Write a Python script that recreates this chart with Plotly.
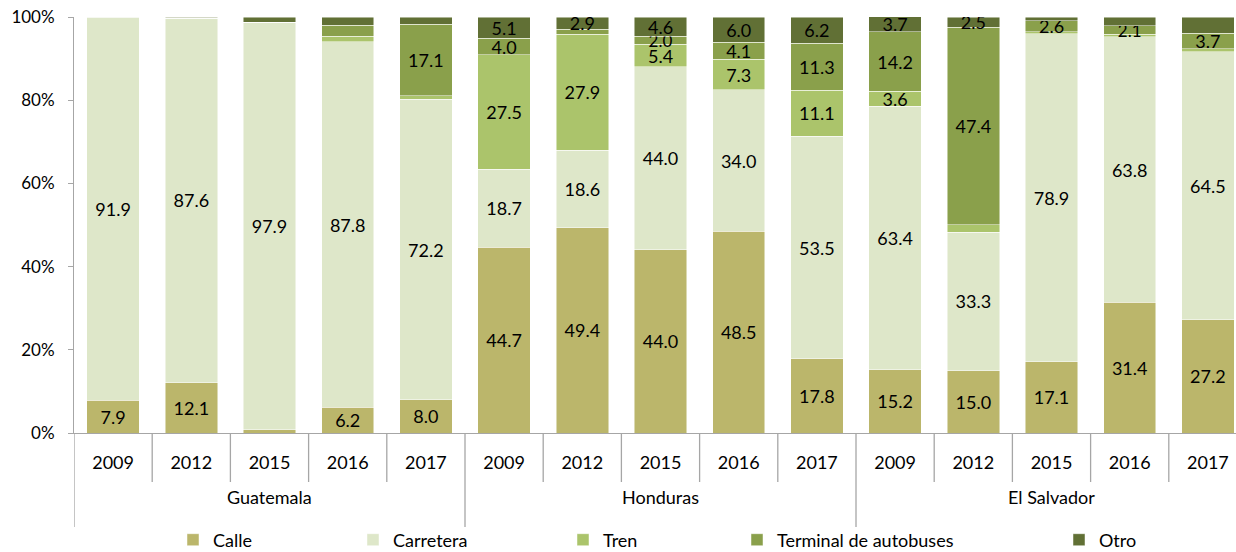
import plotly.graph_objects as go

# ---------------- data ----------------
countries = ["Guatemala", "Honduras", "El Salvador"]
years = ["2009", "2012", "2015", "2016", "2017"]

calle = [7.9, 12.1, 0.8, 6.2, 8.0,
         44.7, 49.4, 44.0, 48.5, 17.8,
         15.2, 15.0, 17.1, 31.4, 27.2]
carretera = [91.9, 87.6, 97.9, 87.8, 72.2,
             18.7, 18.6, 44.0, 34.0, 53.5,
             63.4, 33.3, 78.9, 63.8, 64.5]
tren = [0.0, 0.0, 0.0, 1.4, 0.9,
        27.5, 27.9, 5.4, 7.3, 11.1,
        3.6, 1.8, 0.5, 0.6, 0.7]
terminal = [0.2, 0.1, 0.0, 2.6, 17.1,
            4.0, 1.2, 2.0, 4.1, 11.3,
            14.2, 47.4, 2.6, 2.1, 3.7]
otro = [0.0, 0.2, 1.3, 2.0, 1.8,
        5.1, 2.9, 4.6, 6.0, 6.2,
        3.7, 2.5, 0.9, 2.1, 3.9]

# which data labels are printed on the bars (1 = shown)
show_calle = [1, 1, 0, 1, 1, 1, 1, 1, 1, 1, 1, 1, 1, 1, 1]
show_carretera = [1] * 15
show_tren = [0, 0, 0, 0, 0, 1, 1, 1, 1, 1, 1, 0, 0, 0, 0]
show_terminal = [0, 0, 0, 0, 1, 1, 0, 1, 1, 1, 1, 1, 1, 1, 1]
show_otro = [0, 0, 0, 0, 0, 1, 1, 1, 1, 1, 1, 1, 0, 0, 0]

series_names = ["Calle", "Carretera", "Tren", "Terminal de autobuses", "Otro"]
series_values = [calle, carretera, tren, terminal, otro]
series_show = [show_calle, show_carretera, show_tren, show_terminal, show_otro]
colors = ["#BBB66B", "#DEE7C9", "#ABC46B", "#8AA04B", "#617035"]

y_ticks = [0, 20, 40, 60, 80, 100]
y_tick_text = ["0%", "20%", "40%", "60%", "80%", "100%"]

# ---------------- layout constants ----------------
W, H = 1236, 552
ML, MR, MT, MB = 74, 0, 17, 119
plot_w = W - ML - MR
plot_h = H - MT - MB
slot_px = 78.2
FONT = "Lato"
FS_LABEL = 18
FS_AXIS = 18
FS_Y = 17
GREY = "#A6A6A6"

n = len(countries) * len(years)
xpos = list(range(n))
tick_text = [y for _ in countries for y in years]

legend_left_px = [173, 353, 563, 737, 1059]

fig = go.Figure()
for i, (name, vals, show, col) in enumerate(zip(series_names, series_values, series_show, colors)):
    txt = [f"{v:.1f}" if s else "" for v, s in zip(vals, show)]
    sizes = [FS_LABEL - 1 if v < 2.5 else FS_LABEL for v in vals]
    fig.add_trace(go.Bar(
        x=xpos, y=vals, name=name,
        marker=dict(color=col, line=dict(color="rgba(255,255,255,0.8)", width=0.6)),
        text=txt, textposition="inside", insidetextanchor="middle",
        textangle=0, textfont=dict(family=FONT, size=sizes, color="black"),
        hoverinfo="skip", showlegend=True,
        legend="legend" if i == 0 else f"legend{i+1}",
    ))

# per-item legends (positioned like the reference)
leg_y = (H - MB - 540) / plot_h
for i, lp in enumerate(legend_left_px):
    key = "legend" if i == 0 else f"legend{i+1}"
    fig.update_layout({key: dict(
        x=(lp - ML) / plot_w, y=leg_y, xanchor="left", yanchor="middle",
        orientation="h", bgcolor="rgba(0,0,0,0)",
        font=dict(family=FONT, size=FS_AXIS, color="black"),
    )})

x_max = -0.5 + plot_w / slot_px

fig.update_layout(
    width=W, height=H,
    margin=dict(l=ML, r=MR, t=MT, b=MB, autoexpand=False),
    paper_bgcolor="white", plot_bgcolor="white",
    barmode="stack", bargap=0.33,
    uniformtext=dict(minsize=FS_LABEL - 1, mode="show"),
    font=dict(family=FONT, size=FS_AXIS, color="black"),
    xaxis=dict(
        range=[-0.5, x_max], tickmode="array", tickvals=xpos, ticktext=tick_text,
        showgrid=False, zeroline=False, showline=True, linecolor=GREY, linewidth=1,
        ticks="", ticklabelstandoff=13, tickfont=dict(family=FONT, size=FS_AXIS, color="black"),
        fixedrange=True, automargin=False,
    ),
    yaxis=dict(
        range=[0, 100], tickmode="array", tickvals=y_ticks, ticktext=y_tick_text,
        showgrid=False, zeroline=False, showline=True, linecolor=GREY, linewidth=1,
        ticks="outside", ticklen=5, tickcolor=GREY, ticklabelstandoff=10,
        tickfont=dict(family=FONT, size=FS_Y, color="black"),
        fixedrange=True, automargin=False,
    ),
)

# category separators
short = 49 / plot_h
long_ = 94 / plot_h
for k in range(n + 1):
    xb = k - 0.5
    is_group = (k % len(years) == 0)
    fig.add_shape(type="line", xref="x", yref="paper", x0=xb, x1=xb,
                  y0=0, y1=-(long_ if is_group else short),
                  line=dict(color=GREY, width=1.3))

# country labels
for gi, c in enumerate(countries):
    fig.add_annotation(x=gi * len(years) + (len(years) - 1) / 2, xref="x",
                       y=-(497 - (H - MB)) / plot_h, yref="paper",
                       text=c, showarrow=False, yanchor="middle",
                       font=dict(family=FONT, size=FS_AXIS, color="black"))

fig.write_html(
    "out.html",
    config={"displayModeBar": False},
    post_script="document.body.style.margin='0px';document.body.style.overflow='hidden';",
)
